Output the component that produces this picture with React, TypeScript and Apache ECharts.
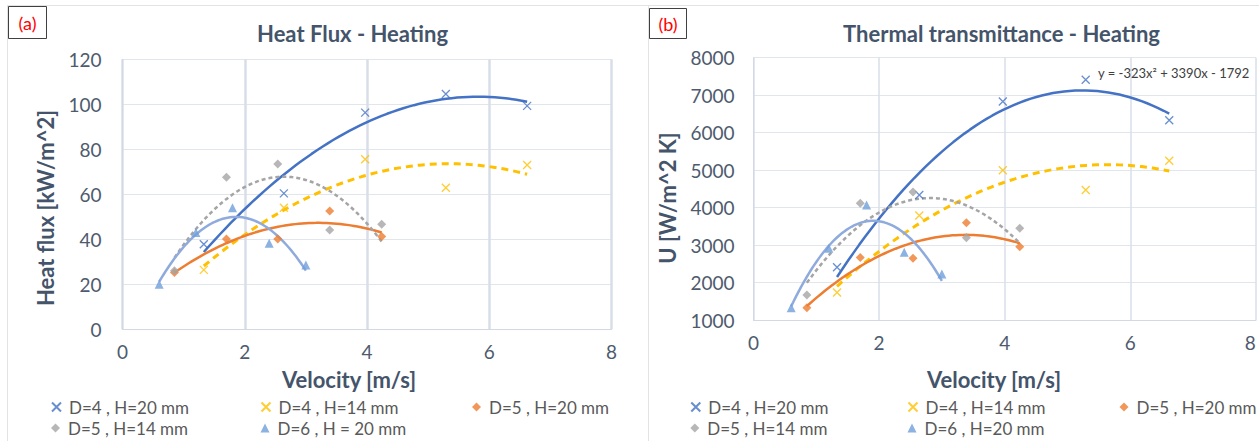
import React, { useEffect, useRef } from "react";
import * as echarts from "echarts";

// ---------- data ----------
const namesA = ["D=4 , H=20 mm", "D=4 , H=14 mm", "D=5 , H=20 mm", "D=5 , H=14 mm", "D=6 , H = 20 mm"];
const namesB = ["D=4 , H=20 mm", "D=4 , H=14 mm", "D=5 , H=20 mm", "D=5 , H=14 mm", "D=6 , H=20 mm"];

const velD4 = [1.33, 2.64, 3.97, 5.29, 6.62];
const velD5 = [0.85, 1.7, 2.54, 3.39, 4.24];
const velD6 = [0.6, 1.2, 1.8, 2.4, 3.0];

// Heat flux [kW/m^2]
const hfD4H20 = [37.8, 60.4, 96.3, 104.6, 99.3];
const hfD4H14 = [26.4, 54.0, 75.6, 62.9, 73.0];
const hfD5H20 = [25.2, 40.1, 40.1, 52.6, 41.2];
const hfD5H14 = [26.0, 67.6, 73.5, 44.1, 46.7];
const hfD6H20 = [20.0, 43.0, 54.0, 38.2, 28.6];

// Thermal transmittance U [W/m^2 K]
const uD4H20 = [2410, 4340, 6830, 7410, 6330];
const uD4H14 = [1740, 3790, 5000, 4470, 5250];
const uD5H20 = [1330, 2670, 2650, 3600, 2960];
const uD5H14 = [1670, 4120, 4420, 3200, 3450];
const uD6H20 = [1330, 2920, 4070, 2810, 2230];

const xTicks = { min: 0, max: 8, interval: 2 };
const yTicksA = { min: 0, max: 120, interval: 20 };
const yTicksB = { min: 1000, max: 8000, interval: 1000 };

const equationText = "y = -323x\u00B2 + 3390x - 1792";

// ---------- styles ----------
const colors = ["#4472C4", "#FFC000", "#ED7D31", "#A5A5A5", "#6F9FDB"];
const trendColors = ["#4472C4", "#FFC000", "#ED7D31", "#A5A5A5", "#8FAADC"];
const trendTypes: any[] = ["solid", [7, 5], "solid", [4, 3], "solid"];
const trendWidths = [2.5, 3, 2.5, 2.5, 2.5];
const crossPath = "path://M0,0L10,10M10,0L0,10";
const symbols = [crossPath, crossPath, "diamond", "diamond", "triangle"];
const FONT = "Lato";
const TXT = "#44546A";

// least squares 2nd order polynomial (Excel polynomial trendline)
function quadFit(xs: number[], ys: number[]) {
  let s0 = 0, s1 = 0, s2 = 0, s3 = 0, s4 = 0, t0 = 0, t1 = 0, t2 = 0;
  for (let i = 0; i < xs.length; i++) {
    const x = xs[i], y = ys[i];
    s0 += 1; s1 += x; s2 += x * x; s3 += x * x * x; s4 += x * x * x * x;
    t0 += y; t1 += x * y; t2 += x * x * y;
  }
  const M = [
    [s0, s1, s2, t0],
    [s1, s2, s3, t1],
    [s2, s3, s4, t2],
  ];
  for (let c = 0; c < 3; c++) {
    let p = c;
    for (let r = c + 1; r < 3; r++) if (Math.abs(M[r][c]) > Math.abs(M[p][c])) p = r;
    [M[c], M[p]] = [M[p], M[c]];
    for (let r = 0; r < 3; r++) {
      if (r === c) continue;
      const f = M[r][c] / M[c][c];
      for (let k = c; k < 4; k++) M[r][k] -= f * M[c][k];
    }
  }
  return [M[0][3] / M[0][0], M[1][3] / M[1][1], M[2][3] / M[2][2]];
}

function trend(xs: number[], ys: number[]) {
  const [a, b, c] = quadFit(xs, ys);
  const lo = Math.min(...xs), hi = Math.max(...xs);
  const out: number[][] = [];
  const n = 60;
  for (let i = 0; i <= n; i++) {
    const x = lo + ((hi - lo) * i) / n;
    out.push([x, a + b * x + c * x * x]);
  }
  return out;
}

function buildSeries(names: string[], xs: number[][], ys: number[][], idx: number) {
  const res: any[] = [];
  names.forEach((nm, i) => {
    res.push({
      type: "line",
      name: "trend-" + idx + "-" + i,
      xAxisIndex: idx,
      yAxisIndex: idx,
      data: trend(xs[i], ys[i]),
      showSymbol: false,
      symbol: "none",
      silent: true,
      lineStyle: { color: trendColors[i], width: trendWidths[i], type: trendTypes[i] },
      z: 2,
    });
  });
  names.forEach((nm, i) => {
    const isCross = i < 2;
    res.push({
      type: "scatter",
      name: nm,
      xAxisIndex: idx,
      yAxisIndex: idx,
      data: xs[i].map((x, k) => [x, ys[i][k]]),
      symbol: symbols[i],
      symbolSize: isCross ? 8 : 9,
      itemStyle: isCross
        ? { color: "rgba(0,0,0,0)", borderColor: colors[i], borderWidth: 1.3 }
        : { color: colors[i] },
      z: 3,
    });
  });
  return res;
}

function axisPair(idx: number, yT: any, vGridWidth: number) {
  const x = {
    type: "value",
    gridIndex: idx,
    ...xTicks,
    axisLine: { show: true, onZero: false, lineStyle: { color: "#D2D9E4", width: 1 } },
    axisTick: { show: false },
    splitLine: { show: true, lineStyle: { color: "#D8DEE8", width: vGridWidth } },
    axisLabel: {
      color: "#4E5B6E",
      fontSize: 19,
      fontFamily: FONT,
      margin: 13,
      alignMaxLabel: idx === 1 ? "right" : undefined,
    },
  };
  const y = {
    type: "value",
    gridIndex: idx,
    ...yT,
    axisLine: { show: true, lineStyle: { color: "#D2D9E4", width: 1 } },
    axisTick: { show: false },
    splitLine: { show: true, lineStyle: { color: "#E1E5EC", width: 1 } },
    axisLabel: {
      color: "#4E5B6E",
      fontSize: 19,
      fontFamily: FONT,
      margin: idx === 0 ? 21 : 19,
      formatter: (v: number) => String(v),
    },
  };
  return [x, y];
}

function legendItem(name: string, left: number, top: number) {
  return {
    data: [name],
    left,
    top,
    orient: "horizontal",
    itemWidth: 9,
    itemHeight: 9,
    selectedMode: false,
    padding: 0,
    textStyle: {
      color: "#595959",
      fontSize: 17,
      fontFamily: FONT,
      lineHeight: 20,
      padding: [0, 0, 0, 3],
    },
  };
}

const legendColsA = [51, 260.5, 472];
const legendColsB = [690.3, 907.5, 1119.5];
const legendRows = [397, 418];

export default function App() {
  const ref = useRef<HTMLDivElement>(null);
  useEffect(() => {
    if (!ref.current) return;
    const chart = echarts.init(ref.current, null, { renderer: "svg" });
    const xsAll = [velD4, velD4, velD5, velD5, velD6];
    const ysA = [hfD4H20, hfD4H14, hfD5H20, hfD5H14, hfD6H20];
    const ysB = [uD4H20, uD4H14, uD5H20, uD5H14, uD6H20];
    const [xa, ya] = axisPair(0, yTicksA, 2.5);
    const [xb, yb] = axisPair(1, yTicksB, 1.5);

    const legends: any[] = [];
    namesA.forEach((n, i) => legends.push(legendItem(n, legendColsA[i % 3], legendRows[Math.floor(i / 3)])));
    namesB.forEach((n, i) => legends.push(legendItem(n, legendColsB[i % 3], legendRows[Math.floor(i / 3)])));

    const option: any = {
      animation: false,
      backgroundColor: "#ffffff",
      grid: [
        { left: 122.5, top: 59.3, width: 489, height: 270, containLabel: false, outerBoundsMode: "none" },
        { left: 753.5, top: 57.7, width: 502.4, height: 262.5, containLabel: false, outerBoundsMode: "none" },
      ],
      xAxis: [xa, xb],
      yAxis: [ya, yb],
      legend: legends,
      series: [...buildSeries(namesA, xsAll, ysA, 0), ...buildSeries(namesB, xsAll, ysB, 1)],
      graphic: [
        { type: "line", shape: { x1: 7, y1: 5.5, x2: 1259, y2: 5.5 }, style: { stroke: "#E3E3E3", lineWidth: 1 }, silent: true },
        { type: "line", shape: { x1: 7.5, y1: 5, x2: 7.5, y2: 441 }, style: { stroke: "#E3E3E3", lineWidth: 1 }, silent: true },
        { type: "line", shape: { x1: 648.5, y1: 5, x2: 648.5, y2: 441 }, style: { stroke: "#E3E3E3", lineWidth: 1 }, silent: true },
        { type: "rect", shape: { x: 8.5, y: 6.5, width: 38, height: 32 }, style: { fill: "#fff", stroke: "#404040", lineWidth: 1 }, z: 10 },
        { type: "text", x: 27.5, y: 22.5, style: { text: "(a)", fill: "#FF0000", font: `18px ${FONT}`, align: "center", verticalAlign: "middle" }, z: 11 },
        { type: "rect", shape: { x: 649.5, y: 8.5, width: 37, height: 30 }, style: { fill: "#fff", stroke: "#404040", lineWidth: 1 }, z: 10 },
        { type: "text", x: 668, y: 23.5, style: { text: "(b)", fill: "#FF0000", font: `18px ${FONT}`, align: "center", verticalAlign: "middle" }, z: 11 },
        { type: "text", x: 352.5, y: 33.5, style: { text: "Heat Flux - Heating", fill: TXT, font: `bold 22px ${FONT}`, align: "center", verticalAlign: "middle" } },
        { type: "text", x: 1001.5, y: 33.5, style: { text: "Thermal transmittance - Heating", fill: TXT, font: `bold 22px ${FONT}`, align: "center", verticalAlign: "middle" } },
        { type: "text", x: 45, y: 208, rotation: Math.PI / 2, style: { text: "Heat flux [kW/m^2]", fill: TXT, font: `bold 22px ${FONT}`, align: "center", verticalAlign: "middle" } },
        { type: "text", x: 667, y: 198, rotation: Math.PI / 2, style: { text: "U [W/m^2 K]", fill: TXT, font: `bold 22px ${FONT}`, align: "center", verticalAlign: "middle" } },
        { type: "text", x: 349, y: 379, style: { text: "Velocity [m/s]", fill: TXT, font: `bold 22px ${FONT}`, align: "center", verticalAlign: "middle" } },
        { type: "text", x: 994, y: 379, style: { text: "Velocity [m/s]", fill: TXT, font: `bold 22px ${FONT}`, align: "center", verticalAlign: "middle" } },
        { type: "text", x: 1098, y: 72.5, style: { text: equationText, fill: "#404040", font: `13px ${FONT}`, align: "left", verticalAlign: "middle" }, z: 5 },
      ],
    };
    chart.setOption(option);
    return () => chart.dispose();
  }, []);
  return (
    <div
      ref={ref}
      style={{ position: "absolute", left: 0, top: 0, width: 1259, height: 441, background: "#fff" }}
    />
  );
}
